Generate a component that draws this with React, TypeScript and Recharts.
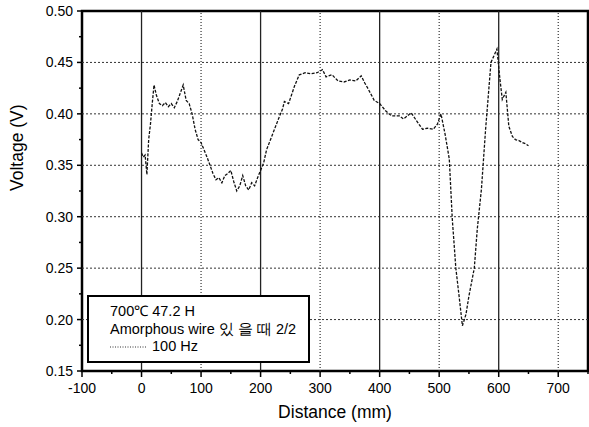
import React from "react";
import {
  LineChart, Line, XAxis, YAxis, ReferenceLine, ReferenceArea,
} from "recharts";

// distance (mm) and voltage (V)
const distance = [
  0, 3, 6, 9, 12, 15, 18, 21, 25, 30, 35, 40, 45, 50, 55, 60, 65, 70, 75, 80,
  85, 90, 95, 100, 105, 110, 115, 120, 125, 130, 135, 140, 145, 150, 155, 160,
  165, 170, 175, 180, 185, 190, 195, 200, 205, 210, 220, 230, 237, 240, 247,
  257, 265, 275, 285, 295, 304, 310, 320, 330, 340, 350, 360, 369, 375, 380,
  391, 400, 410, 420, 433, 440, 453, 460, 472, 480, 490, 497, 503, 510, 517,
  522, 528, 534, 539, 545, 550, 559, 564, 571, 578, 587, 597, 602, 606, 612,
  617, 623, 628, 634, 640, 645, 650,
];
const voltage = [
  0.362, 0.358, 0.36, 0.341, 0.375, 0.39, 0.41, 0.428, 0.418, 0.41, 0.408,
  0.411, 0.407, 0.41, 0.406, 0.412, 0.42, 0.428, 0.413, 0.41, 0.4, 0.385,
  0.375, 0.372, 0.365, 0.358, 0.35, 0.342, 0.336, 0.338, 0.333, 0.34, 0.342,
  0.345, 0.334, 0.325, 0.33, 0.34, 0.33, 0.326, 0.333, 0.33, 0.338, 0.345,
  0.352, 0.365, 0.38, 0.395, 0.405, 0.412, 0.41, 0.427, 0.438, 0.44, 0.439,
  0.44, 0.443, 0.436, 0.438, 0.432, 0.431, 0.433, 0.432, 0.437, 0.43, 0.425,
  0.413, 0.41, 0.403, 0.398, 0.398, 0.395, 0.401, 0.395, 0.385, 0.386, 0.385,
  0.39, 0.4, 0.38, 0.356, 0.298, 0.25, 0.22, 0.194, 0.205, 0.223, 0.25, 0.288,
  0.327, 0.385, 0.45, 0.463, 0.434, 0.414, 0.421, 0.388, 0.378, 0.375, 0.374,
  0.372, 0.371, 0.369,
];

const xTicks = [-100, -50, 0, 50, 100, 150, 200, 250, 300, 350, 400, 450, 500, 550, 600, 650, 700, 750];
const xMajor = [-100, 0, 100, 200, 300, 400, 500, 600, 700];
const yTicks = [0.15, 0.175, 0.2, 0.225, 0.25, 0.275, 0.3, 0.325, 0.35, 0.375, 0.4, 0.425, 0.45, 0.475, 0.5];
const yMajor = [0.15, 0.2, 0.25, 0.3, 0.35, 0.4, 0.45, 0.5];
const solidGridX = [0, 200, 400, 600];
const dottedGridX = [100, 300, 500, 700];
const gridY = [0.2, 0.25, 0.3, 0.35, 0.4, 0.45];

const legendLines = ["700\u2103 47.2 H", "Amorphous wire 있 을 때 2/2"];
const seriesName = "100 Hz";

const data = distance.map((d, i) => ({ d, v: voltage[i] }));

const FONT = "'Liberation Sans', Arial, sans-serif";

const XTick = (props: any) => {
  const { x, y, payload } = props;
  const major = xMajor.includes(payload.value);
  return (
    <g>
      <line x1={x} x2={x} y1={y} y2={y + (major ? 6 : 3)} stroke="#000" strokeWidth={1.5} />
      {major && (
        <text x={x} y={y + 22} textAnchor="middle" fontSize={14} fontFamily={FONT} fill="#000">
          {payload.value}
        </text>
      )}
    </g>
  );
};

const YTick = (props: any) => {
  const { x, y, payload } = props;
  const major = yMajor.some((m) => Math.abs(m - payload.value) < 1e-6);
  return (
    <g>
      <line x1={x - (major ? 5 : 3)} x2={x} y1={y} y2={y} stroke="#000" strokeWidth={1.5} />
      {major && (
        <text x={x - 9} y={y + 5} textAnchor="end" fontSize={14} fontFamily={FONT} fill="#000">
          {payload.value.toFixed(2)}
        </text>
      )}
    </g>
  );
};

const LegendBox = () => (
  <div
    style={{
      position: "absolute",
      left: 87,
      top: 295,
      width: 223,
      height: 68,
      border: "2px solid #000",
      background: "#fff",
      fontFamily: FONT,
      fontSize: 14.5,
      color: "#000",
      boxSizing: "border-box",
      padding: "6px 0 0 21px",
      lineHeight: "17.5px",
      whiteSpace: "nowrap",
    }}
  >
    {legendLines.map((t) => (
      <div key={t}>{t}</div>
    ))}
    <div style={{ display: "flex", alignItems: "center" }}>
      <svg width={42} height={10}>
        <line x1={0} x2={37} y1={5} y2={5} stroke="#333" strokeDasharray="1 1.5" />
      </svg>
      <span>{seriesName}</span>
    </div>
  </div>
);

export default function App() {
  return (
    <div style={{ position: "absolute", left: 0, top: 0, width: 589, height: 427, background: "#fff" }}>
      <LineChart
        width={589}
        height={427}
        data={data}
        margin={{ top: 11, right: 1, left: 0, bottom: 0 }}
      >
        <XAxis
          dataKey="d"
          type="number"
          domain={[-100, 750]}
          ticks={xTicks}
          interval={0}
          height={56}
          tickSize={0}
          tickMargin={0}
          tickLine={false}
          tick={<XTick />}
          axisLine={false}
          label={{ value: "Distance (mm)", position: "insideBottom", offset: 9, fontSize: 17.5, fontFamily: FONT, fill: "#000" }}
        />
        <YAxis
          type="number"
          domain={[0.15, 0.5]}
          ticks={yTicks}
          interval={0}
          width={82}
          tickSize={0}
          tickMargin={0}
          tickLine={false}
          tick={<YTick />}
          axisLine={false}
          label={{ value: "Voltage (V)", angle: -90, position: "insideLeft", offset: 17, fontSize: 17.5, fontFamily: FONT, fill: "#000" }}
        />
        {gridY.map((v) => (
          <ReferenceLine key={"h" + v} y={v} stroke="#333" strokeDasharray="2 2" strokeWidth={1} />
        ))}
        {dottedGridX.map((v) => (
          <ReferenceLine key={"d" + v} x={v} stroke="#333" strokeDasharray="1 2" strokeWidth={1.2} />
        ))}
        {solidGridX.map((v) => (
          <ReferenceLine key={"s" + v} x={v} stroke="#222" strokeWidth={1.3} />
        ))}
        <ReferenceArea
          x1={-100}
          x2={750}
          y1={0.15}
          y2={0.5}
          fill="none"
          stroke="#000"
          strokeWidth={2.5}
          ifOverflow="visible"
        />
        <Line
          type="linear"
          dataKey="v"
          stroke="#111"
          strokeWidth={1.3}
          strokeDasharray="3 1.5"
          dot={false}
          isAnimationActive={false}
        />
      </LineChart>
      <LegendBox />
    </div>
  );
}
